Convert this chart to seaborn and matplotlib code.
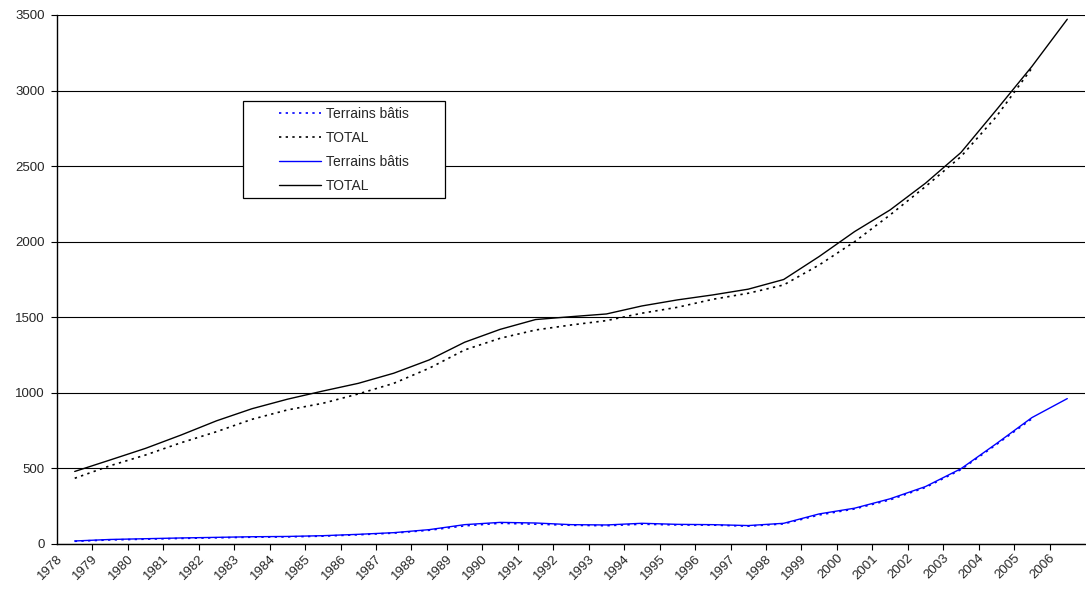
import pandas as pd
import seaborn as sns
import matplotlib.pyplot as plt
import matplotlib.transforms as mtransforms
from matplotlib.patches import Rectangle

# Years on the category axis
years = ["1978", "1979", "1980", "1981", "1982", "1983", "1984", "1985", "1986", "1987",
         "1988", "1989", "1990", "1991", "1992", "1993", "1994", "1995", "1996", "1997",
         "1998", "1999", "2000", "2001", "2002", "2003", "2004", "2005", "2006"]

# Dotted series (stop at 2005)
bati_dotted = [18, 27, 32, 37, 41, 45, 47, 52, 61, 72, 91, 120, 137, 131, 124, 121, 131,
               126, 125, 118, 133, 192, 232, 292, 374, 492, 658, 828]
total_dotted = [435, 518, 589, 670, 743, 825, 887, 931, 993, 1063, 1163, 1284, 1361, 1416,
                1449, 1478, 1527, 1566, 1619, 1659, 1714, 1846, 2000, 2177, 2365, 2563,
                2828, 3148]

# Solid series (to 2006)
bati_solid = [20, 30, 35, 40, 44, 48, 50, 55, 64, 75, 95, 128, 143, 139, 128, 126, 137,
              130, 128, 122, 137, 199, 237, 299, 380, 498, 664, 836, 962]
total_solid = [480, 556, 633, 721, 815, 895, 958, 1012, 1063, 1130, 1218, 1335, 1420, 1485,
               1504, 1522, 1575, 1615, 1648, 1686, 1750, 1902, 2067, 2210, 2387, 2590,
               2872, 3159, 3472]

sns.set_style("white")
plt.rcParams['font.family'] = ['Liberation Sans', 'DejaVu Sans']

fig = plt.figure(figsize=(10.86, 5.94), dpi=100)
ax = fig.add_axes([57 / 1086, 50 / 594, 1028 / 1086, 529 / 594])

dotted = (0, (1.4, 2.6))
series = [
    (bati_dotted, "Terrains bâtis", "#0000FF", dotted),
    (total_dotted, "TOTAL", "black", dotted),
    (bati_solid, "Terrains bâtis", "#0000FF", "-"),
    (total_solid, "TOTAL", "black", "-"),
]
handles = []
for vals, name, col, ls in series:
    df = pd.DataFrame({"x": range(len(vals)), "y": vals})
    sns.lineplot(data=df, x="x", y="y", ax=ax, color=col, linestyle=ls,
                 linewidth=1.0 if ls == "-" else 1.2, zorder=3)
    handles.append((ax.lines[-1], name))

ax.set_xlim(-0.5, len(years) - 0.5)
ax.set_ylim(0, 3500)
ax.set_yticks(range(0, 3501, 500))
ax.yaxis.grid(True, color="black", linewidth=0.8)
ax.set_axisbelow(True)
ax.set_xlabel("")
ax.set_ylabel("")

for side in ["top", "right"]:
    ax.spines[side].set_visible(False)
for side in ["left", "bottom"]:
    ax.spines[side].set_color("black")
    ax.spines[side].set_linewidth(1.0)

# category labels at centres, tick marks at boundaries
ax.set_xticks(range(len(years)))
ax.set_xticklabels(years, rotation=45, ha="right", va="center", rotation_mode="anchor")
ax.set_xticks([i + 0.5 for i in range(len(years) - 1)], minor=True)
ax.tick_params(axis="x", which="major", length=0, pad=9, labelsize=9.5)
ax.tick_params(axis="x", which="minor", direction="out", length=4, width=0.8,
               color="black", bottom=True)
ax.tick_params(axis="y", direction="out", length=4, width=0.8, color="black",
               left=True, pad=5, labelsize=9.5)
shift = mtransforms.ScaledTranslation(-0.14, 0, fig.dpi_scale_trans)
for lab in ax.get_xticklabels():
    lab.set_transform(lab.get_transform() + shift)

# legend box
ax.add_patch(Rectangle((186 / 1028, 346 / 529), 202 / 1028, 97 / 529,
                       transform=ax.transAxes, facecolor="white", edgecolor="black",
                       linewidth=0.9, zorder=5, clip_on=False))
leg = ax.legend([h for h, _ in handles], [n for _, n in handles], loc="center",
                bbox_to_anchor=(287 / 1028, 394.5 / 529), frameon=False, fontsize=10,
                handlelength=3.0, handletextpad=0.35, labelspacing=0.72)
leg.set_zorder(6)

fig.savefig("out.png", dpi=100)
